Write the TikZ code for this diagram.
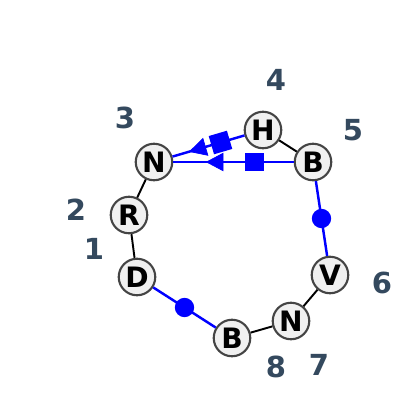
\documentclass[tikz,border=0pt]{standalone}
\usepackage{fontspec}
\setmainfont{DejaVu Sans}
\usetikzlibrary{arrows.meta,decorations.markings,calc}
\definecolor{nodefill}{HTML}{F0F0F0}
\definecolor{nodeline}{HTML}{444444}
\definecolor{numcol}{HTML}{34495E}
\tikzset{
  vtx/.style={circle,draw=nodeline,fill=nodefill,line width=1.2pt,minimum size=20.8pt,inner sep=0pt,font=\fontsize{16}{18}\selectfont\bfseries},
  num/.style={text=numcol,font=\fontsize{16.5}{19}\selectfont\bfseries},
  blk/.style={draw=black,line width=1.1pt},
  blu/.style={draw=blue,line width=1.4pt},
  dotm/.style={circle,fill=blue,minimum size=11pt,inner sep=0pt},
  sqm/.style={rectangle,fill=blue,minimum size=10.8pt,inner sep=0pt},
}
\begin{document}
\begin{tikzpicture}[x=0.02cm,y=-0.02cm]
\useasboundingbox (0,0) rectangle (400,410);
\node[vtx] (D) at (137,277) {D};
\node[vtx] (R) at (129,215) {R};
\node[vtx] (N1) at (154,162) {N};
\node[vtx] (H) at (263,130) {H};
\node[vtx] (B1) at (313,162) {B};
\node[vtx] (V) at (330,275) {V};
\node[vtx] (N2) at (291,321) {N};
\node[vtx] (B2) at (232,338) {B};
% edges
\draw[blk] (D) -- (R);
\draw[blk] (R) -- (N1);
\draw[blk] (H) -- (B1);
\draw[blk] (V) -- (N2);
\draw[blk] (N2) -- (B2);
\draw[blu] (N1) -- (H);
\draw[blu] (N1) -- (B1);
\draw[blu] (B1) -- (V);
\draw[blu] (D) -- (B2);
% markers
\path[decorate,decoration={markings,
  mark=at position 0.32 with {\arrowreversed[blue]{Triangle[length=10pt,width=10.5pt]}},
  mark=at position 0.61 with {\node[sqm,transform shape] (sqa) {};}}]
  (N1.center) -- (H.center);
\path[decorate,decoration={markings,
  mark=at position 0.326 with {\arrowreversed[blue]{Triangle[length=10pt,width=10.5pt]}},
  mark=at position 0.634 with {\node[sqm,transform shape] (sqb) {};}}]
  (N1.center) -- (B1.center);
\node[dotm] (dota) at ($(B1)!0.5!(V)$) {};
\node[dotm] (dotb) at ($(D)!0.5!(B2)$) {};
% numbers
\node[num] (l1) at (94,249) {1};
\node[num] (l2) at (76,210) {2};
\node[num] (l3) at (125,118) {3};
\node[num] (l4) at (276,80) {4};
\node[num] (l5) at (353,130) {5};
\node[num] (l6) at (382,283) {6};
\node[num] (l7) at (319,365) {7};
\node[num] (l8) at (276,367) {8};
\end{tikzpicture}
\end{document}
